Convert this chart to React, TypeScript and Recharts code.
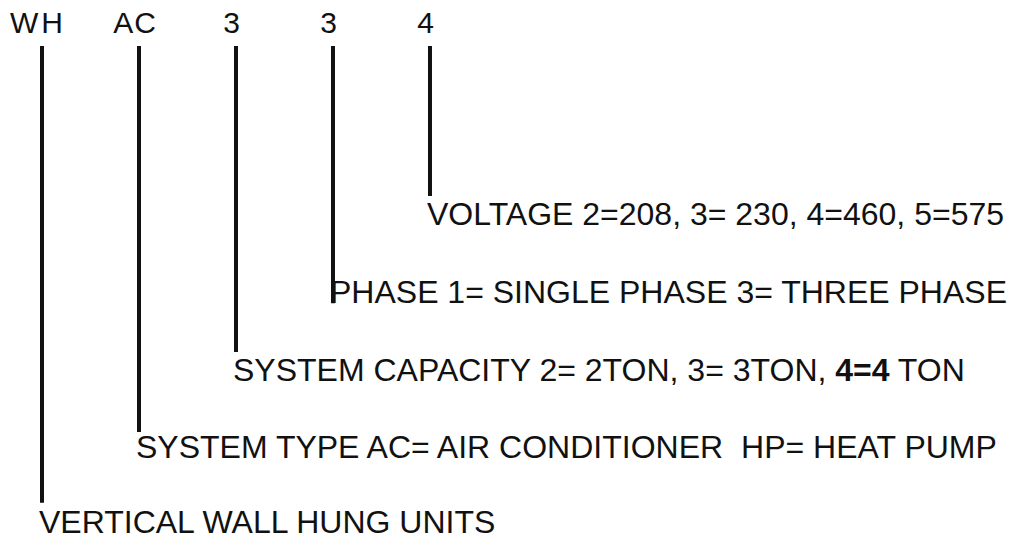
import React from 'react';
import { ComposedChart, XAxis, YAxis, Scatter, ReferenceLine } from 'recharts';

// Model-number positions (columns) and their code characters
const codeColumns = [0, 1, 2, 3, 4];
const codeLabels = ['WH', 'AC', '3', '3', '4'];

// Row (in line-spacing units, 0 = code row) where each description sits
const descriptionRows = [6.47, 5.5, 4.5, 3.5, 2.49];
// Row where each leader line ends
const leaderEnds = [6.08, 5.165, 4.13, 3.5, 2.11];
const leaderStart = 0.17;

// Description texts: [text, bold] pieces per line
const descriptionParts: [string, boolean][][] = [
  [['VERTICAL WALL HUNG UNITS', false]],
  [['SYSTEM TYPE AC= AIR CONDITIONER', false]],
  [['SYSTEM CAPACITY 2= 2TON, 3= 3TON, ', false], ['4=4', true], [' TON', false]],
  [['PHASE 1= SINGLE PHASE 3= THREE PHASE', false]],
  [['VOLTAGE 2=208, 3= 230, 4=460, 5=575', false]],
];
// Second note on the system-type line
const extraNotes = ['', 'HP= HEAT PUMP', '', '', ''];

const codeData = codeColumns.map((c, i) => ({ x: c, y: 0, label: codeLabels[i], idx: i }));
const descData = codeColumns.map((c, i) => ({
  x: c, y: descriptionRows[i], parts: descriptionParts[i], note: extraNotes[i], idx: i,
}));

// ---- layout / style constants (not data) ----
const FONT = '"Liberation Sans", Arial, Helvetica, sans-serif';
const DESC_SIZE = 32;
const NOTE_GAP = 18;

const CodeShape = (props: any) => {
  const { cx, cy, payload } = props;
  return (
    <text x={cx - 4} y={cy} textAnchor="middle" fontFamily={FONT} fontSize={30} fill="#111"
      letterSpacing={payload.label === 'WH' ? 3 : 1}>
      {payload.label}
    </text>
  );
};

const DescShape = (props: any) => {
  const { cx, cy, payload } = props;
  const x0 = cx - 3;
  return (
    <text x={x0} y={cy} fontFamily={FONT} fontSize={DESC_SIZE} fill="#111">
      {payload.parts.map((p: [string, boolean], k: number) => (
        <tspan key={k} fontWeight={p[1] ? 'bold' : 'normal'}>{p[0]}</tspan>
      ))}
      {payload.note ? <tspan dx={NOTE_GAP}>{payload.note}</tspan> : null}
    </text>
  );
};

export default function App() {
  return (
    <div style={{ position: 'absolute', left: 0, top: 0, width: 1027, height: 540, background: '#fff' }}>
      <ComposedChart width={1027} height={540} margin={{ top: 0, right: 0, bottom: 0, left: 0 }} data={codeData}>
        <XAxis type="number" dataKey="x" domain={[-0.433, 10.155]} hide allowDataOverflow />
        <YAxis type="number" dataKey="y" domain={[-0.427, 6.563]} reversed hide allowDataOverflow />
        {codeColumns.map((c, i) => (
          <ReferenceLine key={i} segment={[{ x: c, y: leaderStart }, { x: c, y: leaderEnds[i] }]}
            stroke="#111" strokeWidth={4} ifOverflow="visible" />
        ))}
        <Scatter data={codeData} dataKey="y" shape={<CodeShape />} isAnimationActive={false} />
        <Scatter data={descData} dataKey="y" shape={<DescShape />} isAnimationActive={false} />
      </ComposedChart>
    </div>
  );
}
